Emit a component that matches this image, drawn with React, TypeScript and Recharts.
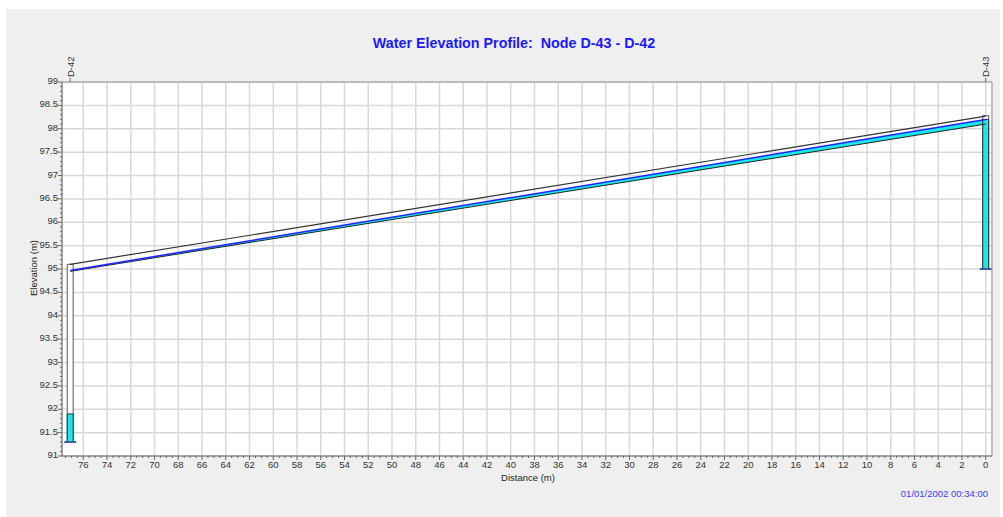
import React from 'react';
import {
  ComposedChart,
  XAxis,
  YAxis,
  CartesianGrid,
  Area,
  Line,
  ReferenceArea,
  ReferenceLine,
} from 'recharts';

// pipe D-43 -> D-42, distances measured from D-43
const pipeDistance = [77.1, 0];
const pipeCrown = [95.1, 98.27];
const pipeInvert = [94.95, 98.1];
const pipeWater = [94.97, 98.2];

const nodeNames = ['D-42', 'D-43'];
const nodeDistance = [77.1, 0];
const nodeInvert = [91.3, 95.0];
const nodeRim = [95.1, 98.28];
const nodeWater = [91.9, 98.2];

const xMajorTicks = [
  0, 2, 4, 6, 8, 10, 12, 14, 16, 18, 20, 22, 24, 26, 28, 30, 32, 34, 36, 38,
  40, 42, 44, 46, 48, 50, 52, 54, 56, 58, 60, 62, 64, 66, 68, 70, 72, 74, 76,
];
const yMajorTicks = [91, 91.5, 92, 92.5, 93, 93.5, 94, 94.5, 95, 95.5, 96, 96.5, 97, 97.5, 98, 98.5, 99];

const xDomain: [number, number] = [-0.53, 77.79];
const yDomain: [number, number] = [91, 99];

// minor tick marks (axis decoration only)
const xMinorTicks: number[] = [];
for (let i = 0; i <= 155; i++) xMinorTicks.push(i / 2);
const yMinorTicks: number[] = [];
for (let i = 910; i <= 990; i++) yMinorTicks.push(i / 10);

const pipeData = pipeDistance.map((d, i) => ({
  distance: d,
  crown: pipeCrown[i],
  invert: pipeInvert[i],
  water: pipeWater[i],
  depth: [pipeInvert[i], pipeWater[i]],
}));

const FONT = '"Liberation Sans", Arial, sans-serif';
const CYAN = '#17e8e8';

function XTick(props: any) {
  const { x, y, payload } = props;
  const v = payload.value as number;
  const major = Math.abs(v - Math.round(v / 2) * 2) < 1e-6;
  return (
    <g>
      <line x1={x} x2={x} y1={y} y2={y + (major ? 4 : 2)} stroke="#666" />
      {major && (
        <text x={x} y={y + 12} textAnchor="middle" fontSize={9.5} fontFamily={FONT} fill="#333">
          {v}
        </text>
      )}
    </g>
  );
}

function YTick(props: any) {
  const { x, y, payload } = props;
  const v = payload.value as number;
  const major = Math.round(v * 10) % 5 === 0;
  return (
    <g>
      <line x1={x - (major ? 4 : 2)} x2={x} y1={y} y2={y} stroke="#666" />
      {major && (
        <text x={x - 4} y={y + 2} textAnchor="end" fontSize={9.5} fontFamily={FONT} fill="#333">
          {Number(v.toFixed(1))}
        </text>
      )}
    </g>
  );
}

function NodeTick(props: any) {
  const { x, y, payload } = props;
  const idx = nodeDistance.indexOf(payload.value);
  const name = idx >= 0 ? nodeNames[idx] : '';
  return (
    <g>
      <line x1={x} x2={x} y1={y} y2={y - 4} stroke="#666" />
      <text
        x={x + 3.5}
        y={y - 5}
        transform={`rotate(-90 ${x + 3.5} ${y - 5})`}
        textAnchor="start"
        fontSize={9.5}
        fontFamily={FONT}
        fill="#333"
      >
        {name}
      </text>
    </g>
  );
}

export default function App() {
  return (
    <div style={{ position: 'fixed', left: 0, top: 0, width: 1003, height: 517, background: '#fff' }}>
      <div
        style={{
          position: 'absolute',
          left: 6,
          top: 9,
          width: 994,
          height: 508,
          background: '#efefef',
          fontFamily: FONT,
        }}
      >
        <ComposedChart
          width={994}
          height={508}
          data={pipeData}
          margin={{ top: 33, right: 7, bottom: 41, left: 16 }}
        >
          <XAxis xAxisId="gx" dataKey="distance" type="number" domain={xDomain} reversed hide ticks={xMajorTicks} interval={0} allowDataOverflow />
          <YAxis yAxisId="gy" type="number" domain={yDomain} hide ticks={yMajorTicks} interval={0} allowDataOverflow />
          <CartesianGrid xAxisId="gx" yAxisId="gy" stroke="#d9d9d9" strokeWidth={1.5} fill="#ffffff" fillOpacity={1} />

          <XAxis
            dataKey="distance"
            type="number"
            domain={xDomain}
            reversed
            allowDataOverflow
            ticks={xMinorTicks}
            interval={0}
            tickSize={0}
            tickMargin={0}
            tickLine={false}
            height={20}
            axisLine={{ stroke: '#666' }}
            tick={(p: any) => <XTick {...p} />}
          />
          <XAxis
            xAxisId="top"
            orientation="top"
            dataKey="distance"
            type="number"
            domain={xDomain}
            reversed
            allowDataOverflow
            ticks={nodeDistance}
            interval={0}
            tickSize={0}
            tickMargin={0}
            tickLine={false}
            height={40}
            axisLine={{ stroke: '#999' }}
            tick={(p: any) => <NodeTick {...p} />}
          />
          <YAxis
            type="number"
            domain={yDomain}
            allowDataOverflow
            ticks={yMinorTicks}
            interval={0}
            tickSize={0}
            tickMargin={0}
            tickLine={false}
            width={40}
            axisLine={{ stroke: '#666' }}
            tick={(p: any) => <YTick {...p} />}
          />
          <YAxis
            yAxisId="right"
            orientation="right"
            type="number"
            domain={yDomain}
            allowDataOverflow
            tick={false}
            tickLine={false}
            width={1}
            axisLine={{ stroke: '#999' }}
          />

          <Area
            dataKey="depth"
            type="linear"
            stroke="none"
            fill={CYAN}
            fillOpacity={1}
            isAnimationActive={false}
          />
          <Line dataKey="invert" type="linear" stroke="#222" strokeWidth={1} dot={false} isAnimationActive={false} />
          <Line dataKey="water" type="linear" stroke="#2323ff" strokeWidth={1.5} dot={false} isAnimationActive={false} />
          <Line dataKey="crown" type="linear" stroke="#333" strokeWidth={1.2} dot={false} isAnimationActive={false} />

          {nodeDistance.map((d, i) => (
            <ReferenceArea
              key={`box-${i}`}
              x1={d - 0.25}
              x2={d + 0.25}
              y1={nodeInvert[i]}
              y2={nodeRim[i]}
              fill="#fff"
              fillOpacity={1}
              stroke="#555"
              strokeWidth={1}
              ifOverflow="visible"
            />
          ))}
          {nodeDistance.map((d, i) => (
            <ReferenceArea
              key={`water-${i}`}
              x1={d - 0.25}
              x2={d + 0.25}
              y1={nodeInvert[i]}
              y2={nodeWater[i]}
              fill={CYAN}
              fillOpacity={1}
              stroke="#333"
              strokeWidth={1}
              ifOverflow="visible"
            />
          ))}
          {nodeDistance.map((d, i) => (
            <ReferenceLine
              key={`inv-${i}`}
              segment={[
                { x: d - 0.5, y: nodeInvert[i] },
                { x: d + 0.5, y: nodeInvert[i] },
              ]}
              stroke="#3d5c9c"
              strokeWidth={2}
              ifOverflow="visible"
            />
          ))}
        </ComposedChart>

        <div
          style={{
            position: 'absolute',
            left: 508,
            top: 34,
            transform: 'translate(-50%, -50%)',
            whiteSpace: 'pre',
            color: '#1a1aff',
            fontWeight: 'bold',
            fontSize: 14.3,
          }}
        >
          {'Water Elevation Profile:  Node D-43 - D-42'}
        </div>
        <div
          style={{
            position: 'absolute',
            left: 27,
            top: 259,
            transform: 'translate(-50%, -50%) rotate(-90deg)',
            whiteSpace: 'nowrap',
            color: '#222',
            fontSize: 9.5,
          }}
        >
          Elevation (m)
        </div>
        <div
          style={{
            position: 'absolute',
            left: 522,
            top: 468,
            transform: 'translate(-50%, -50%)',
            whiteSpace: 'nowrap',
            color: '#222',
            fontSize: 9.5,
          }}
        >
          Distance (m)
        </div>
        <div
          style={{
            position: 'absolute',
            right: 12,
            top: 484,
            transform: 'translateY(-50%)',
            whiteSpace: 'nowrap',
            color: '#3b3bff',
            fontSize: 9.5,
          }}
        >
          01/01/2002 00:34:00
        </div>
      </div>
    </div>
  );
}
